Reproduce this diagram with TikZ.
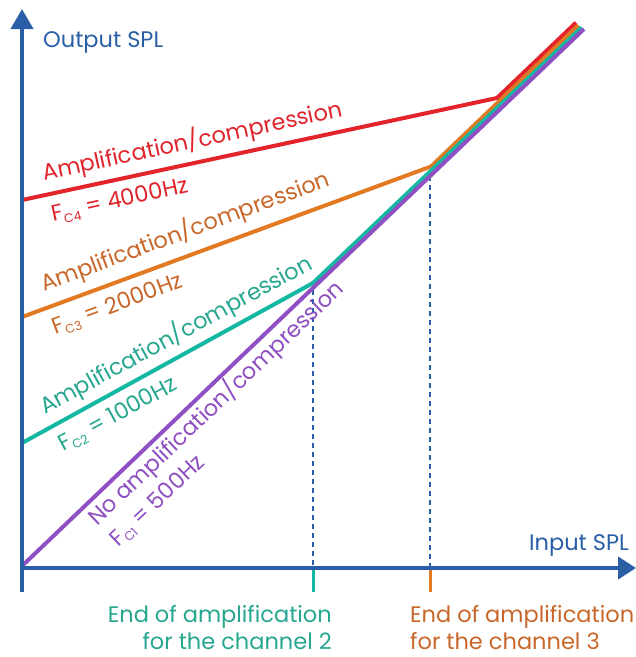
\documentclass[tikz,border=0pt]{standalone}
\usepackage{fontspec}
\setmainfont{Poppins}
\usetikzlibrary{arrows.meta}
\definecolor{axisblue}{HTML}{2A5FA8}
\definecolor{cred}{HTML}{E3242B}
\definecolor{corange}{HTML}{E27A24}
\definecolor{cteal}{HTML}{14B8A2}
\definecolor{cpurple}{HTML}{9050C4}
\definecolor{tred}{HTML}{E0242B}
\definecolor{torange}{HTML}{C8672A}
\definecolor{tteal}{HTML}{27A690}
\definecolor{tpurple}{HTML}{8E4FC0}
\newcommand{\subC}[1]{\raisebox{-4pt}{\fontsize{12.5}{12.5}\selectfont C#1}}
\tikzset{
  axisline/.style={line width=4pt, draw=axisblue},
  curve/.style={line width=4pt, line join=miter},
  lbl/.style={font=\fontsize{22.5}{26}\selectfont, inner sep=0pt},
  guide/.style={draw=axisblue, line width=2pt, dash pattern=on 5pt off 4pt},
  tickmark/.style={line width=3pt},
}
\begin{document}
\begin{tikzpicture}[x=1pt,y=-1pt]
\useasboundingbox (0,0) rectangle (636,657);
% coordinates
\coordinate (ybot) at (22,592);
\coordinate (ytop) at (22,9);
\coordinate (xl) at (20,568);
\coordinate (xr) at (636,568);
\coordinate (O) at (22,566);
\coordinate (pEnd) at (584,29);
\coordinate (tA) at (22,443);
\coordinate (tK) at (313,283);
\coordinate (tEnd) at (581.5,27.4);
\coordinate (oA) at (22,317);
\coordinate (oK) at (431,166.5);
\coordinate (oEnd) at (578.5,25.3);
\coordinate (rA) at (22,200);
\coordinate (rK) at (497,98);
\coordinate (rEnd) at (576,22.6);
\coordinate (g2top) at (313,290);
\coordinate (g2bot) at (313,566);
\coordinate (g3top) at (430,176);
\coordinate (g3bot) at (430,566);
\coordinate (t2a) at (313,568);
\coordinate (t2b) at (313,592);
\coordinate (t3a) at (430,568);
\coordinate (t3b) at (430,592);
% guides
\draw[guide] (g2top) -- (g2bot);
\draw[guide] (g3top) -- (g3bot);
% ticks
\draw[tickmark, cteal] (t2a) -- (t2b);
\draw[tickmark, corange] (t3a) -- (t3b);
% curves
\draw[curve, cred] (rA) -- (rK) -- (rEnd);
\draw[curve, corange] (oA) -- (oK) -- (oEnd);
\draw[curve, cteal] (tA) -- (tK) -- (tEnd);
\draw[curve, cpurple] (O) -- (pEnd);
% axes
\draw[axisline, -{Triangle[length=20pt,width=22pt]}] (ybot) -- (ytop);
\draw[axisline, -{Triangle[length=18pt,width=22pt]}] (xl) -- (xr);
% axis labels
\node[lbl, text=axisblue, anchor=base west] (ylab) at (43,47) {Output SPL};
\node[lbl, text=axisblue, anchor=base west] (xlab) at (529,550) {Input SPL};
% curve labels
\node[lbl, text=tred, anchor=base west, rotate=12.2] (r1) at (44,181) {Amplification/compression};
\node[lbl, text=tred, anchor=base west, rotate=12.2] (r2) at (53,222) {F\subC{4} = 4000Hz};
\node[lbl, text=torange, anchor=base west, rotate=20.4] (o1) at (44,292) {Amplification/compression};
\node[lbl, text=torange, anchor=base west, rotate=20.4] (o2) at (55,335) {F\subC{3} = 2000Hz};
\node[lbl, text=tteal, anchor=base west, rotate=28.6] (t1) at (45,415) {Amplification/compression};
\node[lbl, text=tteal, anchor=base west, rotate=28.6] (t2) at (63,452) {F\subC{2} = 1000Hz};
\node[lbl, text=tpurple, anchor=base west, rotate=43.6] (p1) at (97,527) {No amplification/compression};
\node[lbl, text=tpurple, anchor=base west, rotate=43.6] (p2) at (118,548) {F\subC{1} = 500Hz};
% bottom labels
\node[lbl, text=tteal, anchor=base east] (e2a) at (332,622) {End of amplification};
\node[lbl, text=tteal, anchor=base east] (e2b) at (332,649) {for the channel 2};
\node[lbl, text=torange, anchor=base west] (e3a) at (410,622) {End of amplification};
\node[lbl, text=torange, anchor=base west] (e3b) at (410,649) {for the channel 3};
\end{tikzpicture}
\end{document}
